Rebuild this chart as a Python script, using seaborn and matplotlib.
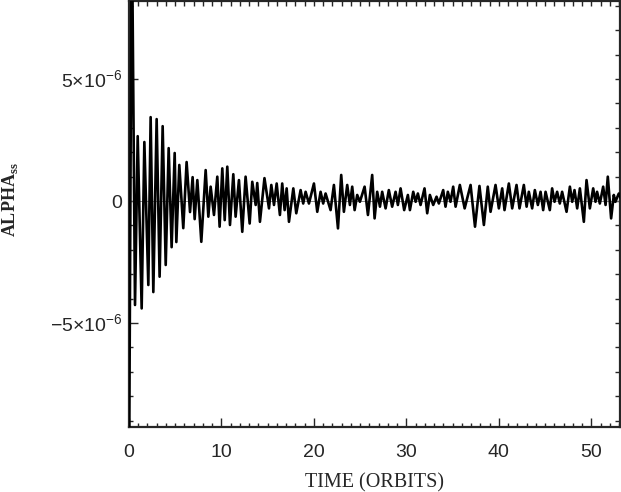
import numpy as np
import pandas as pd
import seaborn as sns
import matplotlib
matplotlib.use("Agg")
import matplotlib.pyplot as plt
from matplotlib.ticker import MultipleLocator

# time in orbits, alpha_ss in units of 1e-6 (peaks / troughs)
time_orbits = [
    0.0, 0.3, 0.65, 0.94, 1.37, 1.66, 2.09, 2.34, 2.63, 2.99,
    3.31, 3.64, 3.97, 4.29, 4.61, 4.94, 5.12, 5.44, 5.87, 6.23,
    6.6, 6.88, 7.10, 7.39, 7.82, 8.29, 8.58, 8.83, 9.19, 9.55,
    9.8, 10.09, 10.35, 10.63, 10.92, 11.28, 11.53, 11.89, 12.25, 12.61,
    13.05, 13.33, 13.7, 13.87, 14.16, 14.65, 15.14, 15.39, 15.68, 15.97,
    16.32, 16.57, 16.83, 17.05, 17.3, 17.77, 18.09, 18.56, 18.84, 19.1,
    19.46, 20.0, 20.36, 20.72, 21.0, 21.26, 21.8, 22.16, 22.6, 22.95,
    23.24, 23.6, 23.89, 24.14, 24.4, 24.68, 24.97, 25.48, 25.84, 26.3,
    26.56, 26.84, 27.14, 27.38, 27.75, 28.1, 28.46, 28.83, 29.08, 29.37,
    29.76, 30.16, 30.38, 30.74, 31.0, 31.24, 31.53, 31.96, 32.25, 32.54,
    32.9, 33.26, 33.51, 33.98, 34.23, 34.48, 34.77, 35.06, 35.32, 35.78,
    36.3, 36.94, 37.42, 37.9, 38.38, 38.8, 39.1, 39.64, 40.0, 40.36,
    40.61, 41.08, 41.44, 41.91, 42.23, 42.7, 43.0, 43.24, 43.6, 43.89,
    44.22, 44.51, 44.79, 45.05, 45.51, 45.76, 46.02, 46.3, 46.59, 46.84,
    47.32, 47.68, 47.93, 48.18, 48.47, 48.76, 49.19, 49.48, 49.84, 50.2,
    50.45, 50.62, 50.92, 51.28, 51.54, 51.78, 52.14, 52.43, 52.6, 52.97,
    53.2,
]
alpha_ss = [
    -12.0, 12.0, -4.26, 2.66, -4.4, 2.42, -3.44, 3.44, -3.73, 3.36,
    -3.1, 3.07, -2.62, 2.17, -1.89, 1.97, -1.68, 1.48, -1.11, 1.6,
    -0.45, 0.98, -0.74, 0.86, -1.67, 1.27, -0.64, 0.59, -0.57, 1.0,
    -1.05, 1.34, -0.78, 1.41, -0.98, 1.1, -0.64, 0.86, -1.26, 1.0,
    -0.92, 0.79, -0.16, 0.74, -0.85, 0.94, -0.3, 0.66, -0.16, 0.72,
    -0.57, 0.72, -0.37, 0.52, -0.85, 0.52, -0.5, 0.45, -0.1, 0.38,
    -0.1, 0.72, -0.44, 0.38, -0.1, 0.31, -0.37, 0.66, -1.12, 1.07,
    -0.44, 0.66, -0.16, 0.59, -0.37, 0.25, -0.03, 0.59, -0.57, 1.07,
    -0.71, 0.38, -0.23, 0.38, -0.3, 0.45, -0.23, 0.38, -0.16, 0.52,
    -0.37, 0.25, -0.37, 0.38, -0.03, 0.31, -0.16, 0.52, -0.5, 0.25,
    -0.16, 0.18, -0.1, 0.45, -0.23, 0.38, -0.03, 0.59, -0.23, 0.66,
    -0.3, 0.66, -1.05, 0.62, -0.98, 0.59, -0.44, 0.66, -0.3, 0.52,
    -0.37, 0.72, -0.3, 0.66, -0.3, 0.66, -0.23, 0.38, -0.3, 0.45,
    -0.16, 0.38, -0.37, 0.38, -0.37, 0.52, -0.03, 0.38, -0.1, 0.38,
    -0.44, 0.59, -0.03, 0.45, -0.3, 0.52, -0.85, 0.86, -0.3, 0.52,
    -0.03, 0.38, -0.1, 0.59, -0.16, 1.0, -0.71, 0.25, -0.03, 0.31,
    0.1,
]

y_ticks = [-5e-6, 0, 5e-6]
y_ticklabels = [r"$-5{\times}10^{-6}$", "0", r"$5{\times}10^{-6}$"]
x_ticks = [0, 10, 20, 30, 40, 50]

df = pd.DataFrame({"time": time_orbits, "alpha": np.array(alpha_ss) * 1e-6})

sns.set_style("ticks")
plt.rcParams["font.family"] = ["Liberation Sans", "DejaVu Sans"]
plt.rcParams["mathtext.fontset"] = "custom"
plt.rcParams["mathtext.rm"] = "Liberation Sans"
plt.rcParams["mathtext.bf"] = "Liberation Serif:bold"

fig = plt.figure(figsize=(6.21, 4.92), dpi=100)
ax = fig.add_axes([129 / 621, 1 - 427 / 492, 491 / 621, 426 / 492])

ax.axhline(0, color="0.45", lw=0.6, zorder=1)
sns.lineplot(data=df, x="time", y="alpha", ax=ax, color="black", lw=1.9, sort=False, zorder=3)

ax.set_xlim(0, 53.1)
ax.set_ylim(-9.26e-6, 8.2e-6)

ax.set_xticks(x_ticks)
ax.xaxis.set_minor_locator(MultipleLocator(1))
ax.set_yticks(y_ticks)
ax.set_yticklabels(y_ticklabels)
ax.yaxis.set_minor_locator(MultipleLocator(1e-6))

ax.tick_params(which="both", direction="in", labelsize=14, width=1.0)
ax.tick_params(which="major", length=6.5)
ax.tick_params(which="minor", length=3)
ax.tick_params(axis="x", pad=12)
ax.tick_params(axis="y", pad=5)

# short ticks on top and right
top = ax.secondary_xaxis("top")
top.xaxis.set_major_locator(MultipleLocator(1))
top.tick_params(direction="in", length=3.5, labeltop=False, width=1.0)
right = ax.secondary_yaxis("right")
right.yaxis.set_major_locator(MultipleLocator(1e-6))
right.tick_params(direction="in", length=3.5, labelright=False, width=1.0)
for a in (top, right):
    for s in a.spines.values():
        s.set_visible(False)

for s in ax.spines.values():
    s.set_linewidth(1.6)
    s.set_visible(True)

ax.set_xlabel("TIME (ORBITS)", family="Liberation Serif", fontsize=14.5, labelpad=9)
ax.set_ylabel(r"$\mathbf{ALPHA}_{\mathbf{ss}}$", fontsize=13)
ax.yaxis.set_label_coords(-0.222, 0.533)

plt.savefig("out.png", dpi=100)
